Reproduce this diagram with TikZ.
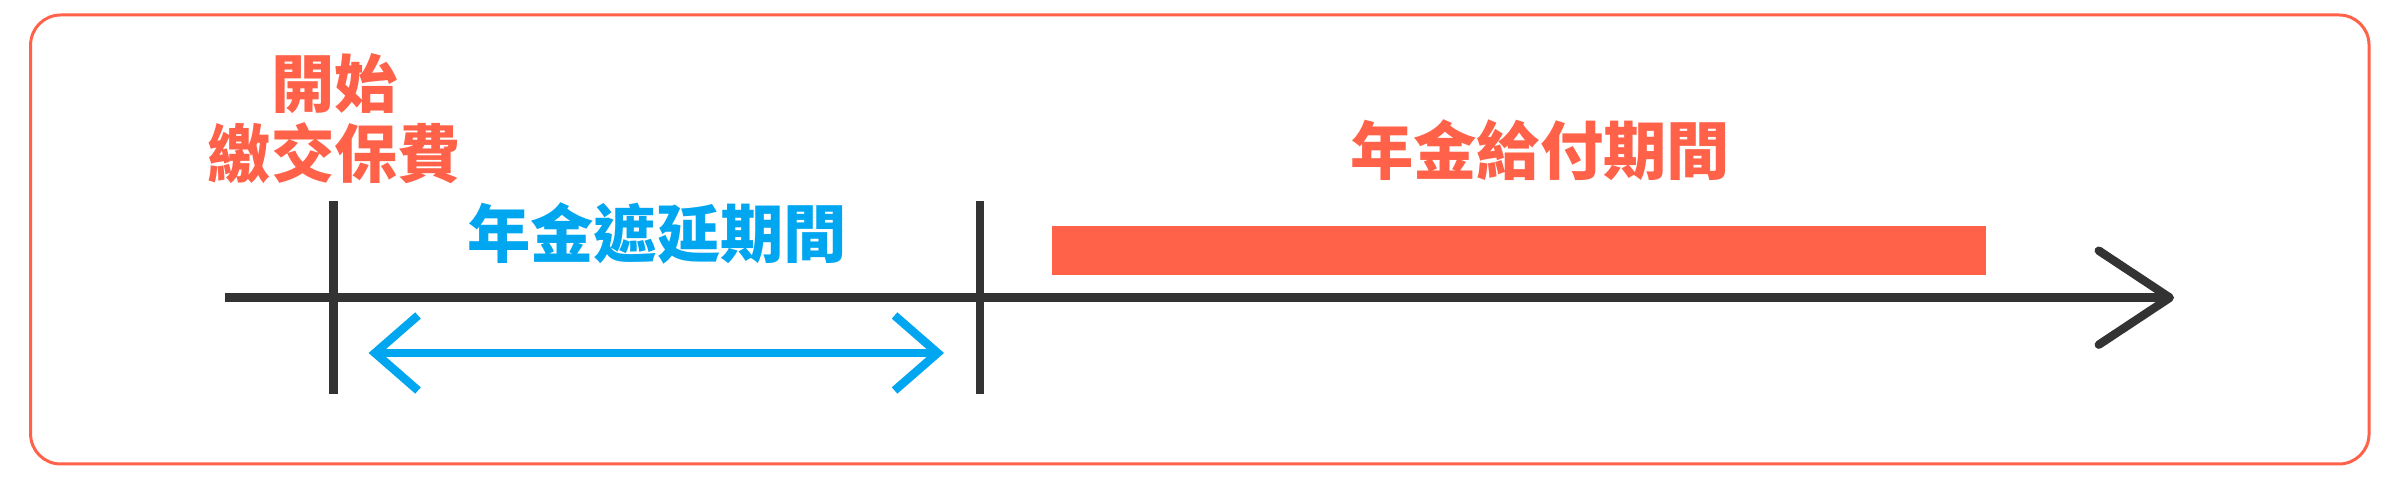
\documentclass[tikz,border=0pt]{standalone}
\usepackage{fontspec}
\newfontfamily\cjk{Noto Sans CJK TC}[BoldFont={Noto Sans CJK TC Black}]
\usetikzlibrary{arrows.meta,positioning}
\definecolor{payred}{HTML}{FF6149}
\definecolor{delayblue}{HTML}{00A6F0}
\definecolor{axisgray}{HTML}{333333}

\begin{document}
\begin{tikzpicture}[label/.style={font=\cjk\bfseries\fontsize{18}{20}\selectfont, inner sep=0pt, align=center},
    axis/.style={draw=axisgray, line width=2.4pt},
    tick/.style={draw=axisgray, line width=2.4pt},
    span/.style={draw=delayblue, line width=2.4pt, {Straight Barb[length=4.3mm, width=7.5mm]}-{Straight Barb[length=4.3mm, width=7.5mm]}}]
    \useasboundingbox (0,0) rectangle (24,4.8);
    \draw[payred, line width=0.85pt, rounded corners=3mm] (0.306,0.16) rectangle (23.69,4.65);
    \coordinate (T0) at (2.245,1.823);
    \coordinate (T1) at (21.74,1.823);
    \coordinate (A) at (3.335,1.823);
    \coordinate (B) at (9.80,1.823);
    \draw[axis, -{Straight Barb[length=7.1mm, width=9.4mm, line cap=round, line join=round]}] (T0) -- (T1);
    \draw[tick] (3.335,2.79) -- (3.335,0.86);
    \draw[tick] (9.80,2.79) -- (9.80,0.86);
    \coordinate (L) at (3.686,1.27);
    \coordinate (R) at (9.44,1.27);
    \draw[span] (L) -- (R);
    \node[label, text=payred] (start) at (3.345,3.615) {開始\\繳交保費};
    \node[label, text=delayblue] (delay) at (6.57,2.47) {年金遮延期間};
    \node[fill=payred, minimum width=9.34cm, minimum height=0.49cm, inner sep=0pt] (band) at (15.19,2.295) {};
    \node[label, text=payred] (pay) at (15.40,3.30) {年金給付期間};
\end{tikzpicture}
\end{document}
